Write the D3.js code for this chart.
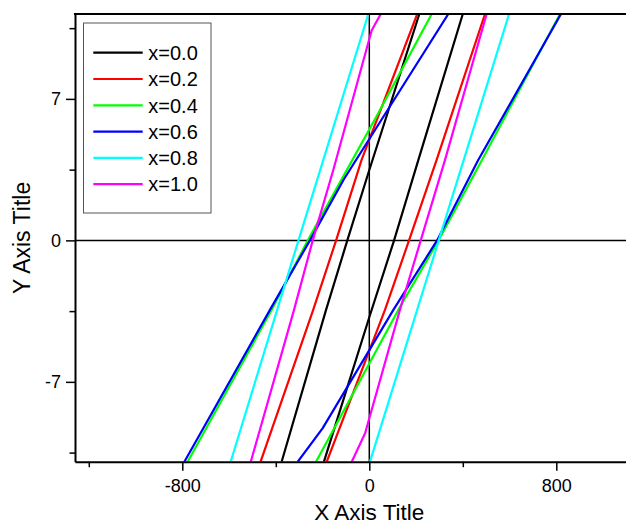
<!DOCTYPE html>
<html>
<head>
<meta charset="utf-8">
<script src="https://cdn.jsdelivr.net/npm/d3@7"></script>
<style>
  body { margin: 0; background: #fff; }
  svg { display: block; }
  text { font-family: "Liberation Sans", Arial, Helvetica, sans-serif; fill: #000; }
</style>
</head>
<body>
<svg id="chart" width="626" height="525"></svg>
<script>
// Series labels, one loop per composition
const seriesLabels = ["x=0.0", "x=0.2", "x=0.4", "x=0.6", "x=0.8", "x=1.0"];

// Loop branches as [field, signal] pairs: left (descending) and right (ascending)
const x00Left  = [[-375, -10.95], [-185, -3.44], [-94, 0], [0, 3.48], [214, 11.2]];
const x00Right = [[-194, -10.95], [3, -3.69], [106, 0], [210, 3.98], [400, 11.2]];
const x02Left  = [[-465, -10.95], [-240, -3.44], [-142, 0], [-33, 3.98], [205, 11.2]];
const x02Right = [[-182, -10.95], [67, -3.44], [170, 0], [288, 3.98], [495, 11.2]];
const x04Left  = [[-777, -10.95], [-418, -3.44], [-263, 0], [30, 6.12], [267, 11.2]];
const x04Right = [[-228, -10.95], [-168, -9.68], [124, -3.44], [296, 0], [482, 3.98], [816, 11.2]];
const x06Left  = [[-791, -10.95], [-425, -3.44], [-254, 0], [-110, 3.0], [338, 11.2]];
const x06Right = [[-306, -10.95], [-200, -9.3], [103, -3.44], [290, 0], [466, 3.98], [820, 11.2]];
const x08Left  = [[-593, -10.95], [-303, 0], [-4, 11.2]];
const x08Right = [[3, -10.95], [297, 0], [598, 11.2]];
const x10Left  = [[-507, -10.95], [-322, -3.44], [-242, 0], [-154, 3.48], [10, 10.38], [49, 11.2]];
const x10Right = [[-75, -10.95], [-18, -9.54], [131, -3.44], [220, 0], [324, 3.98], [502, 11.2]];

const seriesBranches = [
  [x00Left, x00Right],
  [x02Left, x02Right],
  [x04Left, x04Right],
  [x06Left, x06Right],
  [x08Left, x08Right],
  [x10Left, x10Right]
];

// Axis ticks
const xTickValues = [-1200, -800, -400, 0, 400, 800, 1200];
const xTickLabels = [-800, 0, 800];
const yTickValues = [-10.5, -7, -3.5, 0, 3.5, 7, 10.5];
const yTickLabels = [-7, 0, 7];
const xDomain = [-1259, 1259];
const yDomain = [-10.95, 11.2];

// Styling
const seriesColors = ["#000000", "#ff0000", "#00ff00", "#0000ff", "#00ffff", "#ff00ff"];
const plot = { left: 75, top: 14, right: 663.6, bottom: 461.7 };

const svg = d3.select("#chart");
const x = d3.scaleLinear().domain(xDomain).range([plot.left, plot.right]);
const y = d3.scaleLinear().domain(yDomain).range([plot.bottom, plot.top]);

svg.append("defs").append("clipPath").attr("id", "plotClip")
  .append("rect")
  .attr("x", plot.left).attr("y", plot.top)
  .attr("width", plot.right - plot.left).attr("height", plot.bottom - plot.top);

// Zero reference lines
const refs = svg.append("g").attr("stroke", "#000").attr("stroke-width", 1.5);
refs.append("line")
  .attr("x1", plot.left).attr("x2", plot.right)
  .attr("y1", y(0)).attr("y2", y(0));
refs.append("line")
  .attr("x1", x(0)).attr("x2", x(0))
  .attr("y1", plot.top).attr("y2", plot.bottom);

// Loop branches
const line = d3.line().x(d => x(d[0])).y(d => y(d[1]));
const curves = svg.append("g").attr("clip-path", "url(#plotClip)");
seriesBranches.forEach((branches, i) => {
  branches.forEach(b => {
    curves.append("path")
      .datum(b)
      .attr("d", line)
      .attr("fill", "none")
      .attr("stroke", seriesColors[i])
      .attr("stroke-width", 2.2)
      .attr("stroke-linejoin", "round");
  });
});

// Axes (plain hyphen for negative labels)
const fmt = d => (xTickLabels.includes(d) ? String(d) : "");
const xAxis = d3.axisBottom(x).tickValues(xTickValues).tickFormat(fmt).tickSizeOuter(0).tickPadding(4);
const gx = svg.append("g").attr("transform", `translate(0,${plot.bottom})`).call(xAxis);
gx.select(".domain").attr("stroke-width", 2);
gx.selectAll(".tick line")
  .attr("stroke-width", 1.5)
  .attr("y2", d => (xTickLabels.includes(d) ? 9 : 5.5));
gx.selectAll(".tick text")
  .attr("font-size", 18)
  .attr("font-family", "Liberation Sans, Arial, sans-serif")
  .attr("y", 18).attr("dy", "0.71em");

const yFmt = d => (yTickLabels.includes(d) ? String(d) : "");
const yAxis = d3.axisLeft(y).tickValues(yTickValues).tickFormat(yFmt).tickSizeOuter(0).tickPadding(4);
const gy = svg.append("g").attr("transform", `translate(${plot.left},0)`).call(yAxis);
gy.select(".domain").attr("stroke-width", 2);
gy.selectAll(".tick line")
  .attr("stroke-width", 1.5)
  .attr("x2", d => (yTickLabels.includes(d) ? -9 : -5.5));
gy.selectAll(".tick text")
  .attr("font-size", 18)
  .attr("font-family", "Liberation Sans, Arial, sans-serif")
  .attr("x", -14);

// Top and right frame
svg.append("line")
  .attr("x1", plot.left - 1).attr("x2", plot.right)
  .attr("y1", plot.top).attr("y2", plot.top)
  .attr("stroke", "#000").attr("stroke-width", 2);
svg.append("line")
  .attr("x1", plot.right).attr("x2", plot.right)
  .attr("y1", plot.top).attr("y2", plot.bottom)
  .attr("stroke", "#000").attr("stroke-width", 2);

// Axis titles
svg.append("text")
  .attr("x", (plot.left + plot.right) / 2).attr("y", 520)
  .attr("text-anchor", "middle").attr("font-size", 22.5)
  .text("X Axis Title");
svg.append("text")
  .attr("transform", `translate(29.5,${(plot.top + plot.bottom) / 2}) rotate(-90)`)
  .attr("text-anchor", "middle").attr("font-size", 23)
  .text("Y Axis Title");

// Legend
const legend = svg.append("g");
legend.append("rect")
  .attr("x", 83.5).attr("y", 23).attr("width", 127.5).attr("height", 190)
  .attr("fill", "#fff").attr("stroke", "#555").attr("stroke-width", 1);
seriesLabels.forEach((label, i) => {
  const ry = 52.7 + i * 26.3;
  legend.append("line")
    .attr("x1", 93.3).attr("x2", 142.7).attr("y1", ry).attr("y2", ry)
    .attr("stroke", seriesColors[i]).attr("stroke-width", 2.2);
  legend.append("text")
    .attr("x", 148.3).attr("y", ry + 7.2)
    .attr("font-size", 20)
    .text(label);
});
</script>
</body>
</html>
